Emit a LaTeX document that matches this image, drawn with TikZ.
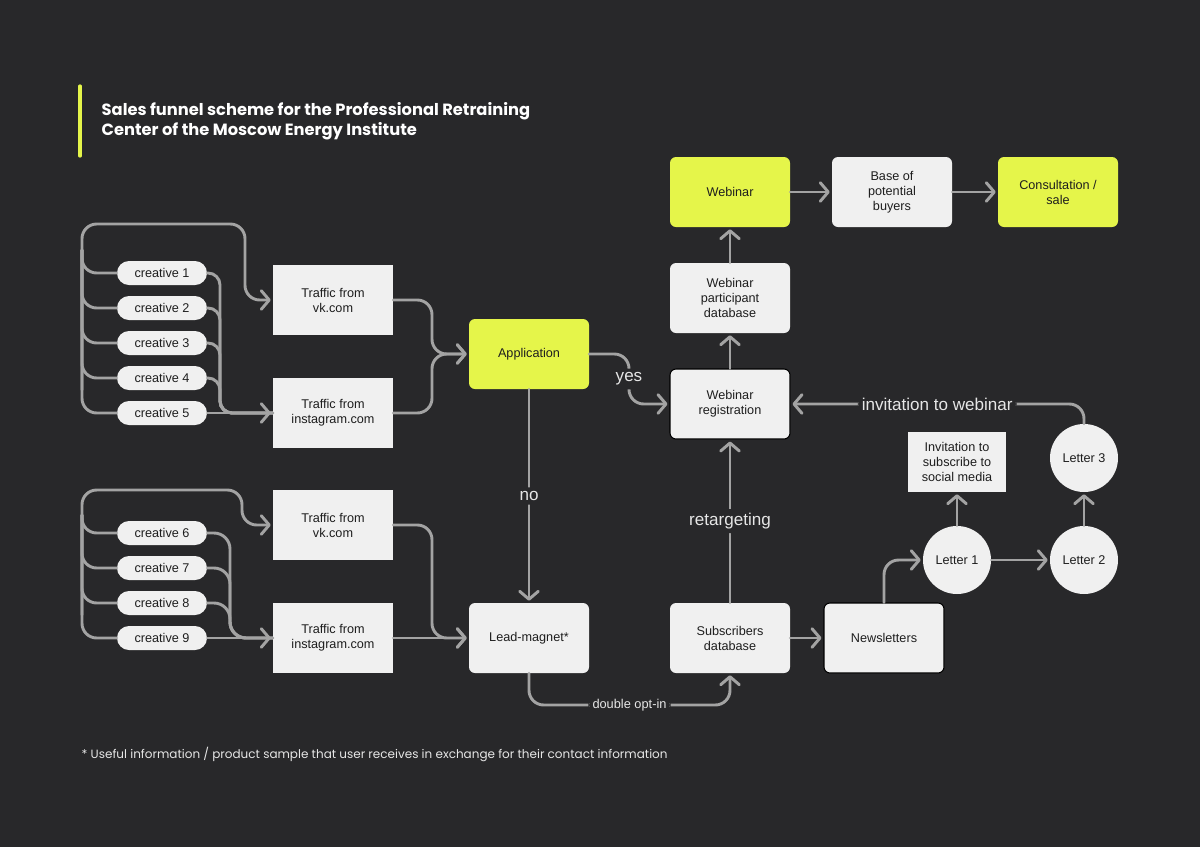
\documentclass[tikz,border=0pt]{standalone}
\usepackage{fontspec}
\setmainfont{Liberation Sans}
\newfontfamily\titlefont{Poppins}
\usetikzlibrary{arrows.meta, positioning, calc}
\definecolor{bgdark}{HTML}{28282A}
\definecolor{lime}{HTML}{E5F54A}
\definecolor{wire}{HTML}{A3A3A3}
\definecolor{paper}{HTML}{F0F0F0}
\definecolor{inkdark}{HTML}{1E1E1E}
\definecolor{pale}{HTML}{E6E6E6}

\begin{document}
\begin{tikzpicture}[
  x=0.75pt, y=-0.75pt,
  box/.style={rectangle, fill=paper, text=inkdark, minimum width=90pt, minimum height=52.5pt, align=center, inner sep=2pt, font=\fontsize{9.5}{11.3}\selectfont},
  rbox/.style={box, rounded corners=4.5pt},
  limebox/.style={rbox, fill=lime},
  pill/.style={rectangle, rounded corners=9pt, fill=paper, text=inkdark, minimum width=67.5pt, minimum height=18pt, inner sep=1pt, font=\fontsize{9.5}{11}\selectfont},
  letter/.style={circle, fill=paper, text=inkdark, minimum size=51pt, inner sep=0pt, font=\fontsize{9.5}{11}\selectfont},
  wire/.style={draw=wire, line width=2.2pt, line cap=round, line join=round, rounded corners=11pt},
  arrow/.style={wire, -{Straight Barb[length=6pt, width=14pt, round]}, shorten >=1.5pt},
  tag/.style={fill=bgdark, text=pale, inner sep=3pt, font=\fontsize{12.8}{14}\selectfont}
]

  % background fixes the page size
  \fill[bgdark] (0,0) rectangle (1200,847);

  % heading
  \draw[lime, line width=2.4pt, line cap=round] (80,86) -- (80,156);
  \node[anchor=west, align=left, text=white, font=\titlefont\bfseries\fontsize{12.2}{15}\selectfont] (title) at (97,121)
    {Sales funnel scheme for the Professional Retraining\\Center of the Moscow Energy Institute};

  % creatives
  \foreach \i/\y in {1/273, 2/308, 3/343, 4/378, 5/413, 6/533, 7/568, 8/603, 9/638}
    \node[pill] (c\i) at (162,\y) {creative \i};

  % traffic sources
  \node[box] (vkA) at (333,300) {Traffic from\\vk.com};
  \node[box] (igA) at (333,413) {Traffic from\\instagram.com};
  \node[box] (vkB) at (333,525) {Traffic from\\vk.com};
  \node[box] (igB) at (333,638) {Traffic from\\instagram.com};

  % funnel
  \node[limebox] (app) at (529,354) {Application};
  \node[rbox] (lead) at (529,638) {Lead-magnet*};
  \node[limebox] (web) at (730,192) {Webinar};
  \node[rbox] (base) at (892,192) {Base of\\potential\\buyers};
  \node[limebox] (sale) at (1058,192) {Consultation /\\sale};
  \node[rbox] (wpart) at (730,298) {Webinar\\participant\\database};
  \node[rbox, draw=black, line width=0.8pt] (wreg) at (730,404) {Webinar\\registration};
  \node[rbox] (subs) at (730,638) {Subscribers\\database};
  \node[rbox, draw=black, line width=0.8pt] (news) at (884,638) {Newsletters};
  \node[box, minimum width=74pt, minimum height=45pt] (social) at (957,462) {Invitation to\\subscribe to\\social media};
  \node[letter] (let1) at (957,560) {Letter 1};
  \node[letter] (let2) at (1084,560) {Letter 2};
  \node[letter] (let3) at (1084,458) {Letter 3};

  % creatives 1-5 to the traffic sources
  \foreach \i in {1,...,5}
    \draw[wire] (c\i.west) -| (82,250);
  \draw[arrow] (82,390) |- (245,224) -- (245,300) -- (vkA.west);
  \foreach \i/\y in {1/273, 2/308, 3/343, 4/378}
    \draw[wire, rounded corners=9pt] (c\i.east) -- (220,\y) -- (220,413) -- (igA.west);
  \draw[arrow] (c5.east) -- (igA.west);

  % creatives 6-9 to the traffic sources
  \foreach \i in {6,...,9}
    \draw[wire] (c\i.west) -| (82,515);
  \draw[arrow] (82,615) |- (242,490) -- (242,525) -- (vkB.west);
  \foreach \i/\y in {6/533, 7/568, 8/603}
    \draw[wire, rounded corners=12pt] (c\i.east) -- (230,\y) -- (230,638) -- (igB.west);
  \draw[arrow] (c9.east) -- (igB.west);

  % traffic to application and lead-magnet
  \draw[arrow] (vkA.east) -- (432,300) -- (432,354) -- (app.west);
  \draw[arrow] (igA.east) -- (432,413) -- (432,354) -- (app.west);
  \draw[arrow] (vkB.east) -- (432,525) -- (432,638) -- (lead.west);
  \draw[arrow] (igB.east) -- (lead.west);

  % main flow
  \draw[arrow] (app.south) -- node[tag] {no} (lead.north);
  \draw[arrow] (app.east) -- (629,354) -- node[tag] {yes} (629,404) -- (wreg.west);
  \draw[arrow] (wreg.north) -- (wpart.south);
  \draw[arrow] (wpart.north) -- (web.south);
  \draw[arrow] (web.east) -- (base.west);
  \draw[arrow] (base.east) -- (sale.west);
  \draw[arrow] (subs.north) -- node[tag] {retargeting} (wreg.south);
  \draw[arrow] (lead.south) -- (529,705) -- node[tag, font=\fontsize{9.6}{11}\selectfont] {double opt-in} (730,705) -- (subs.south);
  \draw[arrow] (subs.east) -- (news.west);

  % newsletters
  \draw[arrow] (news.north) -- (884,560) -- (let1.west);
  \draw[arrow] (let1.east) -- (let2.west);
  \draw[arrow] (let1.north) -- (social.south);
  \draw[arrow] (let2.north) -- (let3.south);
  \draw[arrow] (let3.north) -- (1084,404) -- node[tag] {invitation to webinar} (wreg.east);

  % footnote
  \node[anchor=west, text=pale, font=\titlefont\fontsize{9}{11}\selectfont] (note) at (77,754)
    {* Useful information / product sample that user receives in exchange for their contact information};

\end{tikzpicture}
\end{document}
